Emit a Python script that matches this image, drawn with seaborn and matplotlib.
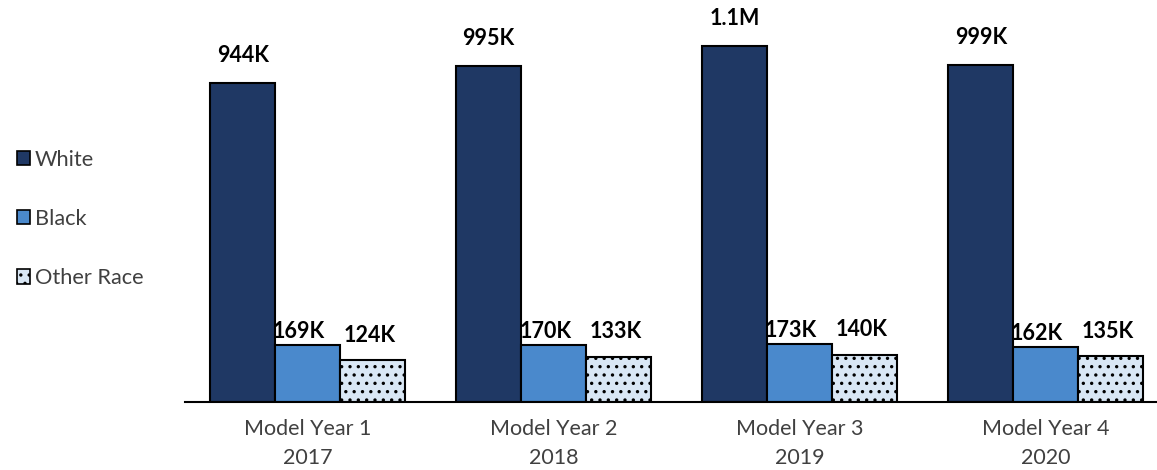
import matplotlib
matplotlib.use("Agg")
import matplotlib.pyplot as plt
import seaborn as sns
import pandas as pd
from matplotlib.patches import Patch

years = ["Model Year 1\n2017", "Model Year 2\n2018", "Model Year 3\n2019", "Model Year 4\n2020"]
races = ["White", "Black", "Other Race"]
white = [944000, 995000, 1054000, 999000]
black = [169000, 170000, 173000, 162000]
other = [124000, 133000, 140000, 135000]
white_lbl = ["944K", "995K", "1.1M", "999K"]
black_lbl = ["169K", "170K", "173K", "162K"]
other_lbl = ["124K", "133K", "140K", "135K"]

rows = []
for i, y in enumerate(years):
    rows.append((y, "White", white[i]))
    rows.append((y, "Black", black[i]))
    rows.append((y, "Other Race", other[i]))
df = pd.DataFrame(rows, columns=["year", "race", "value"])

sns.set_theme(style="white")
plt.rcParams["font.family"] = ["Lato", "DejaVu Sans"]
plt.rcParams["hatch.linewidth"] = 1.2
colors = {"White": "#1f3864", "Black": "#4a89cc", "Other Race": "#d9e7f5"}
dot_color = "#2f4f7a"

fig = plt.figure(figsize=(11.57, 4.70), dpi=100)
ax = fig.add_axes([185 / 1157, 68 / 470, 1 - 185 / 1157, 402 / 470])

sns.barplot(data=df, x="year", y="value", hue="race", hue_order=races, order=years,
            palette=colors, width=0.79, gap=0, edgecolor="black", linewidth=1.5,
            legend=False, ax=ax, errorbar=None, saturation=1)

labels = {"White": white_lbl, "Black": black_lbl, "Other Race": other_lbl}
offsets = {"White": (0, 12), "Black": (-6, 2.0), "Other Race": (-2, 10.5)}
for cont, race in zip(ax.containers, races):
    for bar, lab in zip(cont, labels[race]):
        if race == "Other Race":
            bar.set_hatch("..")
            if hasattr(bar, "set_hatchcolor"):
                bar.set_hatchcolor(dot_color)
        x = bar.get_x() + bar.get_width() / 2
        h = bar.get_height()
        ax.annotate(lab, xy=(x, h), xytext=offsets[race], textcoords="offset points",
                    ha="center", va="bottom", fontsize=15.5, fontweight="bold", color="black")

ax.set_xlim(-0.498, 3.453)
ax.set_ylim(0, 1190000)
ax.set_xlabel("")
ax.set_ylabel("")
ax.set_yticks([])
for s in ["top", "right", "left"]:
    ax.spines[s].set_visible(False)
ax.spines["bottom"].set_color("black")
ax.spines["bottom"].set_linewidth(1.5)
ax.tick_params(axis="x", length=0, pad=12, labelsize=15.5, labelcolor="#404040")
for t in ax.get_xticklabels():
    t.set_linespacing(1.6)

handles = []
for r in races:
    p = Patch(facecolor=colors[r], edgecolor="black", linewidth=1.2,
              hatch=".." if r == "Other Race" else None)
    if r == "Other Race" and hasattr(p, "set_hatchcolor"):
        p.set_hatchcolor(dot_color)
    handles.append(p)
fig.legend(handles, races, loc="upper left", bbox_to_anchor=(8 / 1157, 1 - 141 / 470),
           frameon=False, fontsize=15.7, labelcolor="#404040", handlelength=0.62,
           handleheight=0.62, handletextpad=0.2, labelspacing=1.8, borderaxespad=0)

fig.savefig("out.png", dpi=100)
